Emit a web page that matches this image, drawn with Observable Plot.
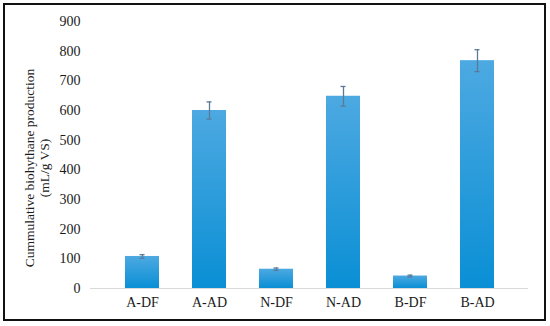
<!DOCTYPE html>
<html>
<head>
<meta charset="utf-8">
<script src="https://cdn.jsdelivr.net/npm/d3@7"></script>
<script src="https://cdn.jsdelivr.net/npm/@observablehq/plot@0.6"></script>
<style>
  body { margin: 0; background: #fff; }
  #wrap { position: relative; width: 550px; height: 326px; }
  #border { position: absolute; left: 3px; top: 3px; width: 539px; height: 314px; border: 2px solid #111; pointer-events: none; }
</style>
</head>
<body>
<div id="wrap"><div id="border"></div></div>
<script>
const categories = ["A-DF", "A-AD", "N-DF", "N-AD", "B-DF", "B-AD"];
const values = [108, 600, 65, 648, 42, 768];
const errors = [6, 29, 4, 33, 3, 37];
const yTicks = [0, 100, 200, 300, 400, 500, 600, 700, 800, 900];
const yLabelLines = ["Cummulative biohythane production", "(mL/g VS)"];

const data = categories.map((c, i) => ({cat: c, v: values[i], lo: values[i] - errors[i], hi: values[i] + errors[i]}));

const font = "'Liberation Serif', 'Times New Roman', serif";

const plot = Plot.plot({
  width: 550,
  height: 326,
  marginLeft: 90,
  marginRight: 22,
  marginTop: 21,
  marginBottom: 38,
  style: {fontFamily: font, fontSize: "14px", color: "#1a1a1a", background: "transparent"},
  x: {domain: categories, padding: 0.5, label: null, tickSize: 0, tickPadding: 9},
  y: {domain: [0, 900], ticks: yTicks, label: null, tickSize: 0, tickPadding: 10},
  marks: [
    Plot.barY(data, {x: "cat", y: "v", fill: "url(#barGrad)"}),
    Plot.ruleY([0], {stroke: "#d9d9d9", strokeWidth: 1}),
    Plot.ruleX(data, {x: "cat", y1: "lo", y2: "hi", stroke: "#5b7a99", strokeWidth: 1.3}),
    Plot.tickY(data, {x: "cat", y: "hi", stroke: "#5b7a99", strokeWidth: 1.3, insetLeft: 14.5, insetRight: 14.5}),
    Plot.tickY(data, {x: "cat", y: "lo", stroke: "#5b7a99", strokeWidth: 1.3, insetLeft: 14.5, insetRight: 14.5})
  ]
});

const svg = d3.select(plot);
const defs = svg.insert("defs", ":first-child");
const grad = defs.append("linearGradient").attr("id", "barGrad").attr("x1", 0).attr("y1", 0).attr("x2", 0).attr("y2", 1);
grad.append("stop").attr("offset", "0%").attr("stop-color", "#4da9e1");
grad.append("stop").attr("offset", "100%").attr("stop-color", "#0a8fd5");

const yc = 168;
const lineX = [31, 46];
yLabelLines.forEach((t, i) => {
  svg.append("text")
    .attr("transform", `translate(${lineX[i]},${yc}) rotate(-90)`)
    .attr("text-anchor", "middle")
    .attr("dominant-baseline", "middle")
    .attr("font-family", font)
    .attr("font-size", "13.5px")
    .attr("fill", "#1a1a1a")
    .text(t);
});

document.getElementById("wrap").appendChild(plot);
</script>
</body>
</html>
